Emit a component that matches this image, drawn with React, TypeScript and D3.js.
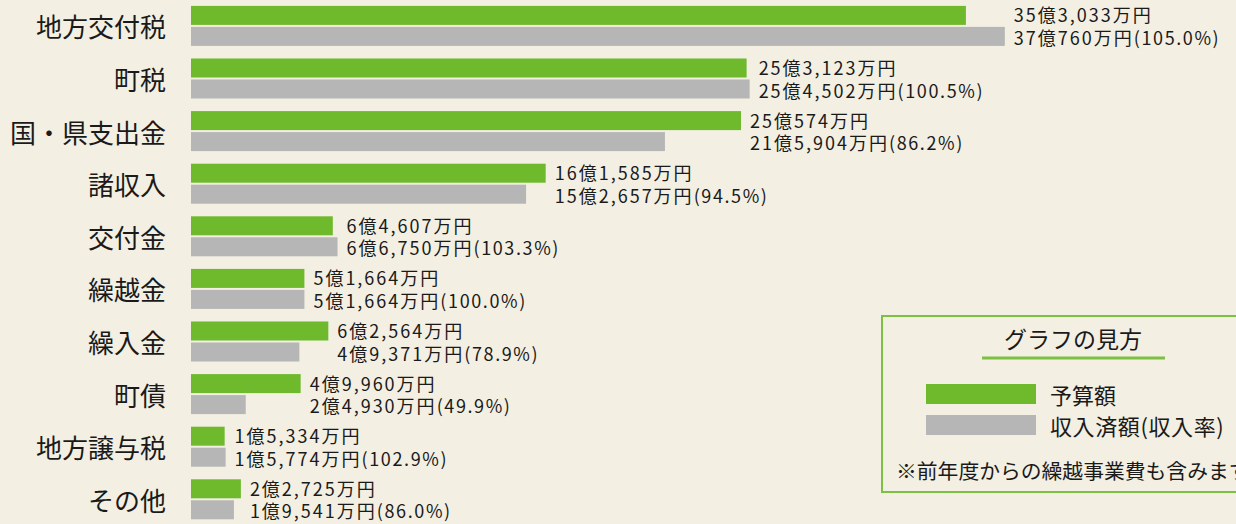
import React from "react";
import * as d3 from "d3";

const categories = ["地方交付税", "町税", "国・県支出金", "諸収入", "交付金", "繰越金", "繰入金", "町債", "地方譲与税", "その他"];
const budget = [353033, 253123, 250574, 161585, 64607, 51664, 62564, 49960, 15334, 22725];
const actual = [370760, 254502, 215904, 152657, 66750, 51664, 49371, 24930, 15774, 19541];
const rates = ["105.0", "100.5", "86.2", "94.5", "103.3", "100.0", "78.9", "49.9", "102.9", "86.0"];

const legendTitle = "グラフの見方";
const legendItems = ["予算額", "収入済額(収入率)"];
const note = "※前年度からの繰越事業費も含みます";

const W = 1236;
const H = 524;
const GREEN = "#6fb92c";
const GRAY = "#b5b6b5";
const BG = "#f3efe3";
const TEXT = "#1a1a1a";
const FONT = "'Noto Sans CJK JP', 'Noto Sans', sans-serif";

function fmt(v: number): string {
  const oku = Math.floor(v / 10000);
  const man = v % 10000;
  return `${oku}億${d3.format(",")(man)}万円`;
}

export default function App() {
  const x = d3.scaleLinear().domain([0, 400000]).range([191, 1069]);
  const y = d3.scaleBand<string>().domain(categories).range([-0.4, -0.4 + 52.6 * categories.length]).padding(0);
  const bh = 19;

  return (
    <svg width={W} height={H} style={{ position: "absolute", left: 0, top: 0, background: BG }} fontFamily={FONT}>
      <rect x={0} y={0} width={W} height={H} fill={BG} />
      {categories.map((c, i) => {
        const cy = (y(c) as number) + y.bandwidth() / 2;
        const gEnd = x(budget[i]);
        const aEnd = x(actual[i]);
        const lx = Math.max(gEnd, aEnd) + 9;
        return (
          <g key={c}>
            <text x={166} y={cy} textAnchor="end" dominantBaseline="central" fontSize={26} fill={TEXT}>{c}</text>
            <rect x={x(0)} y={cy - 1 - bh} width={gEnd - x(0)} height={bh} fill={GREEN} />
            <rect x={x(0)} y={cy + 1} width={aEnd - x(0)} height={bh} fill={GRAY} />
            <text x={lx} y={cy - 11.5} dominantBaseline="central" fontSize={18} letterSpacing={2} fill={TEXT}>{fmt(budget[i])}</text>
            <text x={lx} y={cy + 11} dominantBaseline="central" fontSize={18} letterSpacing={2} fill={TEXT}>{fmt(actual[i])}<tspan letterSpacing={1.6}>({rates[i]}%)</tspan></text>
          </g>
        );
      })}
      <g>
        <rect x={882} y={316} width={W} height={176} fill={BG} stroke="#7cc142" strokeWidth={2} />
        <text x={1073} y={338} textAnchor="middle" dominantBaseline="central" fontSize={23} fill={TEXT}>{legendTitle}</text>
        <line x1={982} x2={1165} y1={358} y2={358} stroke="#7cc142" strokeWidth={3} />
        <rect x={926} y={384} width={110} height={20} fill={GREEN} />
        <rect x={926} y={415} width={110} height={20} fill={GRAY} />
        <text x={1050} y={394} dominantBaseline="central" fontSize={22} fill={TEXT}>{legendItems[0]}</text>
        <text x={1050} y={425} dominantBaseline="central" fontSize={22} letterSpacing={0.6} fill={TEXT}>{legendItems[1]}</text>
        <text x={896} y={470} dominantBaseline="central" fontSize={20.8} fill={TEXT}>{note}</text>
      </g>
    </svg>
  );
}
